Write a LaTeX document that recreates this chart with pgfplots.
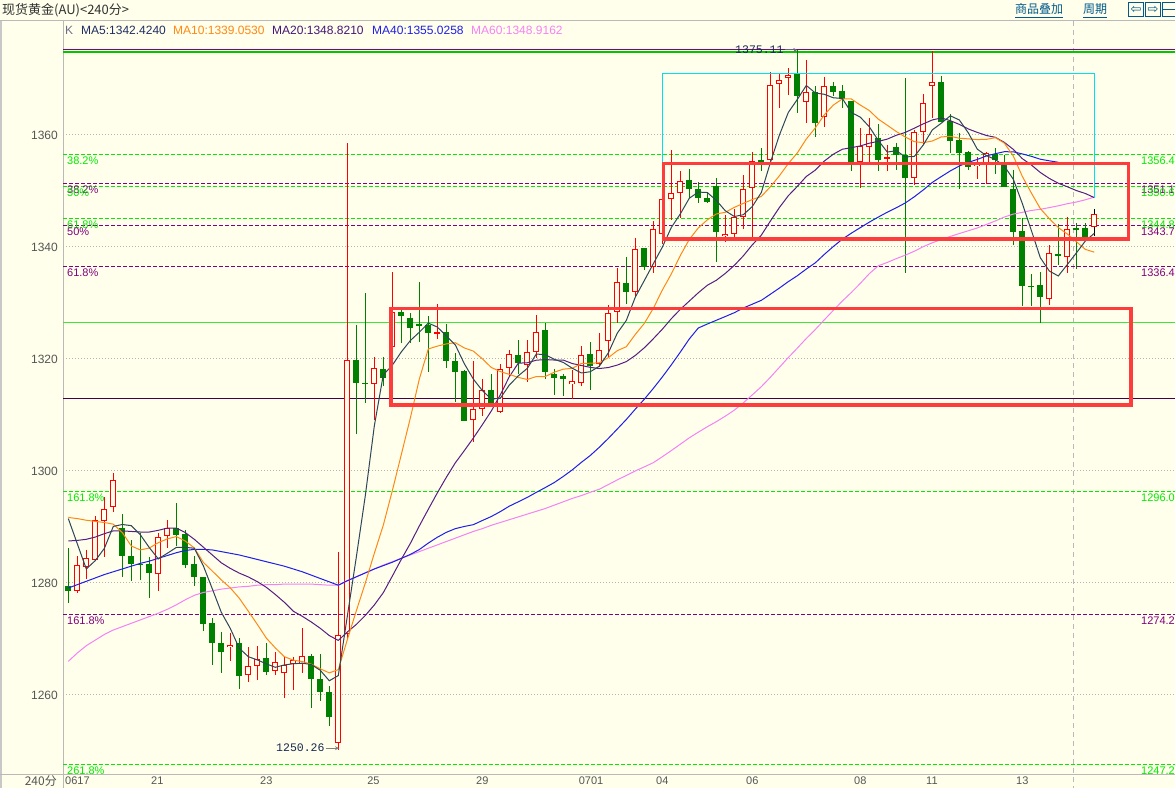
\documentclass[border=0pt]{standalone}
\usepackage{pgfplots}
\pgfplotsset{compat=1.18}
\usepackage{pgfplotstable}
\usetikzlibrary{arrows.meta}
\usepackage{fontspec}
\setmainfont{Liberation Sans}
\newfontfamily\cjk{Noto Sans CJK SC}
\newfontfamily\monof{Liberation Mono}
\newfontfamily\djv{DejaVu Sans}
\newcommand{\fs}[1]{\fontsize{#1bp}{#1bp}\selectfont}

\definecolor{bg}{RGB}{255,255,236}
\definecolor{gridc}{RGB}{180,180,180}
\definecolor{framec}{RGB}{185,185,185}
\definecolor{leftgray}{RGB}{200,200,200}
\definecolor{tickc}{RGB}{85,85,85}
\definecolor{titlec}{RGB}{50,50,50}
\definecolor{candR}{RGB}{255,0,0}
\definecolor{candG}{RGB}{0,128,0}
\definecolor{fibG}{RGB}{0,235,0}
\definecolor{fibP}{RGB}{128,0,128}
\definecolor{topG}{RGB}{0,200,0}
\definecolor{supG}{RGB}{60,230,60}
\definecolor{darkL}{RGB}{70,0,70}
\definecolor{maA}{RGB}{45,70,90}
\definecolor{maB}{RGB}{255,136,20}
\definecolor{maC}{RGB}{85,30,130}
\definecolor{maD}{RGB}{30,30,235}
\definecolor{maE}{RGB}{245,130,245}
\definecolor{maAt}{RGB}{30,45,100}
\definecolor{maCt}{RGB}{70,20,120}
\definecolor{kc}{RGB}{110,110,140}
\definecolor{rectR}{RGB}{255,60,60}
\definecolor{cyanc}{RGB}{0,225,235}
\definecolor{navy}{RGB}{20,40,80}
\definecolor{arrP}{RGB}{130,80,150}
\definecolor{linkc}{RGB}{0,90,140}

% up (red, hollow) candles: index open high low close
\pgfplotstableread{
k o h l c
2 1278.5 1284.9 1278.2 1283.2
3 1282.9 1285.9 1280.7 1284.4
4 1284.1 1292.0 1283.9 1291.3
5 1291.0 1295.4 1284.7 1293.3
6 1293.5 1299.7 1292.6 1298.3
11 1281.7 1289.0 1278.5 1288.2
12 1288.3 1291.3 1286.3 1289.9
19 1268.5 1271.0 1266.0 1268.9
21 1263.5 1268.6 1262.4 1265.1
22 1265.1 1268.8 1262.7 1266.4
24 1264.3 1267.6 1263.6 1265.8
25 1263.9 1266.8 1259.5 1265.4
26 1265.5 1266.8 1260.9 1266.2
27 1265.6 1271.9 1263.9 1266.9
31 1251.5 1285.6 1250.26 1270.8
32 1270.9 1358.5 1270.0 1319.8
35 1315.5 1320.4 1309.1 1318.3
37 1322.1 1335.5 1321.1 1328.3
42 1324.5 1329.9 1323.5 1324.8
46 1309.1 1319.7 1305.2 1311.0
47 1311.1 1316.4 1309.8 1314.5
49 1310.6 1319.2 1310.4 1318.3
50 1318.3 1321.6 1316.9 1320.8
52 1318.9 1323.4 1315.8 1321.2
53 1321.2 1327.9 1320.1 1324.9
57 1315.5 1318.0 1312.8 1316.0
58 1315.8 1322.3 1315.1 1320.7
60 1319.2 1324.6 1318.6 1321.6
61 1323.3 1329.7 1320.1 1328.3
62 1328.3 1336.3 1326.4 1333.7
64 1331.9 1341.6 1331.1 1339.6
66 1336.4 1344.7 1335.4 1343.3
67 1342.4 1349.6 1340.5 1348.5
68 1348.5 1357.3 1344.8 1349.6
69 1349.6 1353.5 1345.1 1351.7
74 1342.0 1345.7 1340.8 1342.4
75 1342.4 1346.8 1341.6 1345.3
76 1345.4 1352.9 1343.2 1350.4
77 1350.5 1356.9 1341.6 1355.4
79 1355.5 1371.3 1355.4 1368.9
80 1369.1 1371.0 1364.9 1369.9
81 1370.1 1372.0 1367.1 1370.8
83 1365.8 1373.4 1362.1 1367.6
85 1363.2 1370.3 1361.5 1368.7
89 1355.1 1361.2 1350.6 1358.0
90 1357.9 1363.0 1355.2 1360.1
92 1355.7 1358.2 1353.6 1356.0
95 1352.3 1360.9 1351.0 1360.5
96 1360.5 1367.4 1358.2 1365.8
97 1368.8 1375.0 1363.1 1369.4
102 1354.4 1356.1 1352.1 1354.8
103 1354.6 1357.0 1351.2 1356.7
110 1330.8 1340.4 1329.6 1338.9
112 1338.2 1345.3 1335.3 1343.3
115 1343.5 1346.8 1341.9 1345.8
}\upT

% down (green, filled) candles
\pgfplotstableread{
k o h l c
1 1279.5 1286.2 1276.5 1278.6
7 1289.8 1292.3 1281.1 1284.9
8 1284.9 1287.7 1280.4 1283.4
9 1283.4 1288.9 1280.5 1283.2
10 1283.3 1284.6 1277.4 1281.8
13 1289.9 1294.3 1286.6 1288.6
14 1288.8 1289.5 1282.6 1283.3
15 1283.4 1284.8 1279.5 1281.0
16 1281.0 1281.1 1271.5 1272.6
17 1272.8 1273.7 1265.4 1269.3
18 1269.3 1271.3 1263.9 1267.6
20 1269.3 1270.1 1261.1 1263.3
23 1266.6 1269.3 1263.6 1264.1
28 1266.9 1267.3 1257.6 1262.9
29 1262.9 1267.3 1259.0 1260.6
30 1260.5 1261.7 1254.5 1256.1
33 1319.8 1326.1 1306.7 1315.7
34 1315.8 1331.7 1312.2 1315.5
36 1318.2 1320.4 1315.1 1316.6
38 1328.4 1329.1 1322.9 1327.6
39 1327.4 1328.2 1322.8 1325.6
40 1326.3 1333.7 1323.1 1325.8
41 1326.1 1327.7 1317.6 1324.7
43 1324.8 1326.3 1318.3 1319.7
44 1319.6 1321.0 1312.4 1317.6
45 1317.9 1318.0 1309.0 1309.0
48 1314.5 1317.3 1311.5 1312.1
51 1320.7 1323.4 1317.4 1319.2
54 1325.2 1326.4 1316.4 1317.7
55 1317.3 1318.2 1313.5 1316.7
56 1316.9 1317.3 1313.4 1316.4
59 1320.8 1323.1 1314.5 1318.8
63 1333.5 1338.2 1329.9 1332.0
65 1339.8 1339.9 1335.9 1336.4
70 1351.9 1353.9 1348.7 1350.4
71 1350.3 1351.6 1347.8 1348.8
72 1348.7 1349.9 1347.8 1348.1
73 1350.8 1352.3 1337.4 1342.6
78 1355.5 1357.6 1353.6 1355.1
82 1370.9 1375.11 1364.0 1367.0
84 1367.6 1368.8 1359.7 1362.2
86 1368.8 1369.5 1367.0 1367.7
87 1367.9 1368.9 1364.8 1366.4
88 1366.1 1366.1 1353.5 1355.1
91 1359.4 1361.9 1353.5 1355.5
93 1357.8 1358.5 1353.8 1356.4
94 1356.4 1370.2 1335.4 1352.4
98 1369.4 1370.6 1362.3 1362.4
99 1362.5 1363.7 1356.7 1359.0
100 1359.1 1360.3 1350.4 1356.8
101 1356.9 1357.1 1353.8 1354.3
104 1356.6 1357.6 1353.0 1355.5
105 1354.9 1356.4 1350.8 1350.8
106 1350.4 1353.8 1340.4 1342.7
107 1342.9 1345.2 1329.4 1333.1
108 1333.1 1335.1 1329.4 1332.8
109 1333.3 1335.6 1326.4 1331.0
111 1338.8 1344.1 1336.8 1338.3
113 1343.4 1344.2 1336.0 1343.1
114 1343.4 1344.2 1341.7 1341.7
}\downT

% moving averages
\pgfplotstableread{
k ma5 ma10 ma20 ma40 ma60
1 1291.5 1291.7 1287.5 1279.1 1266.0
2 1287.0 1291.5 1287.6 1279.7 1267.5
3 1282.5 1291.2 1287.8 1280.3 1268.8
4 1284.0 1291.0 1288.2 1280.9 1269.8
5 1286.16 1290.8 1288.8 1281.5 1270.8
6 1290.10 1290.5 1289.3 1282.0 1271.6
7 1290.44 1289.0 1289.3 1282.5 1272.2
8 1290.24 1286.6 1289.2 1283.0 1272.8
9 1288.62 1285.9 1289.1 1283.5 1273.4
10 1286.32 1286.24 1289.1 1283.9 1274.0
11 1284.30 1287.20 1289.4 1284.4 1274.6
12 1285.30 1287.87 1289.8 1284.9 1275.3
13 1286.34 1288.29 1289.8 1285.4 1276.1
14 1286.36 1287.49 1289.0 1285.8 1277.0
15 1286.20 1286.26 1287.8 1286.0 1277.8
16 1283.08 1283.69 1286.4 1286.0 1278.3
17 1278.96 1282.13 1285.0 1285.9 1278.6
18 1274.76 1280.55 1283.6 1285.6 1278.9
19 1271.88 1279.12 1282.6 1285.3 1279.1
20 1268.34 1277.27 1281.76 1285.0 1279.3
21 1266.84 1274.96 1281.08 1284.6 1279.4
22 1266.26 1272.61 1280.24 1284.2 1279.6
23 1265.56 1270.16 1279.23 1283.8 1279.7
24 1264.94 1268.41 1277.95 1283.4 1279.7
25 1265.36 1266.85 1276.56 1283.0 1279.8
26 1265.58 1266.21 1274.95 1282.5 1279.8
27 1265.68 1265.97 1274.05 1282.0 1279.8
28 1265.44 1265.50 1273.03 1281.4 1279.8
29 1264.40 1264.67 1271.90 1280.8 1279.7
30 1262.54 1263.95 1270.61 1280.2 1279.6
31 1263.46 1264.52 1269.74 1279.6 1279.6
32 1274.04 1269.86 1271.24 1280.4 1280.4
33 1284.60 1275.02 1272.59 1281.1 1281.1
34 1295.58 1279.99 1274.20 1281.8 1281.8
35 1308.02 1285.28 1276.07 1282.5 1282.5
36 1317.18 1290.32 1278.27 1283.1 1283.2
37 1318.88 1296.46 1281.22 1283.7 1283.8
38 1321.26 1302.93 1284.22 1284.4 1284.4
39 1323.28 1309.43 1287.05 1285.1 1285.0
40 1324.78 1316.40 1290.18 1285.97 1285.6
41 1326.40 1321.79 1293.16 1287.12 1286.2
42 1325.70 1322.29 1296.08 1288.16 1286.8
43 1324.12 1322.69 1298.86 1289.04 1287.4
44 1322.52 1322.90 1301.45 1289.70 1288.0
45 1319.16 1321.97 1303.63 1290.09 1288.6
46 1316.42 1321.41 1305.87 1290.41 1289.2
47 1314.36 1320.03 1308.25 1291.15 1289.7
48 1312.84 1318.48 1310.71 1291.87 1290.3
49 1312.98 1317.75 1313.59 1292.74 1290.8
50 1315.34 1317.25 1316.83 1293.72 1291.3
51 1316.98 1316.70 1319.25 1294.49 1291.8
52 1318.32 1316.34 1319.32 1295.28 1292.3
53 1320.88 1316.86 1319.78 1296.18 1292.8
54 1320.76 1316.87 1319.89 1297.04 1293.3
55 1319.94 1317.64 1319.81 1297.94 1293.9
56 1319.38 1318.18 1319.80 1299.03 1294.5
57 1318.34 1318.33 1319.18 1300.20 1295.1
58 1317.50 1319.19 1318.84 1301.53 1295.6
59 1317.72 1319.24 1318.50 1302.77 1296.2
60 1318.70 1319.32 1318.29 1304.23 1296.74
61 1321.08 1320.23 1318.47 1305.81 1297.57
62 1324.62 1321.48 1318.91 1307.49 1298.41
63 1326.88 1322.19 1319.53 1309.19 1299.20
64 1331.04 1324.38 1320.63 1311.04 1300.01
65 1334.00 1326.35 1322.00 1312.81 1300.73
66 1337.00 1329.04 1323.61 1314.74 1301.48
67 1339.96 1332.29 1325.31 1316.78 1302.54
68 1343.48 1335.18 1327.19 1318.95 1303.64
69 1345.90 1338.47 1328.86 1321.22 1304.78
70 1348.70 1341.35 1330.34 1323.58 1305.92
71 1349.80 1343.40 1331.82 1325.53 1306.93
72 1349.72 1344.84 1333.16 1326.24 1307.90
73 1348.32 1345.90 1334.05 1326.91 1308.80
74 1346.46 1346.18 1335.28 1327.58 1309.79
75 1345.44 1347.07 1336.71 1328.26 1310.86
76 1345.76 1347.78 1338.41 1329.10 1312.16
77 1347.22 1348.47 1340.38 1329.78 1313.59
78 1349.72 1349.02 1342.10 1330.47 1315.05
79 1355.02 1350.74 1344.61 1331.55 1316.72
80 1359.94 1352.69 1347.02 1332.65 1318.49
81 1364.02 1354.89 1349.15 1333.81 1320.26
82 1366.34 1356.78 1350.81 1334.86 1321.93
83 1368.84 1359.28 1352.59 1336.06 1323.66
84 1367.50 1361.26 1353.72 1337.17 1325.26
85 1367.26 1363.60 1355.34 1338.67 1326.99
86 1366.64 1365.33 1356.56 1340.08 1328.68
87 1366.52 1366.43 1357.45 1341.38 1330.34
88 1364.02 1366.43 1357.73 1342.46 1331.87
89 1363.18 1365.34 1358.04 1343.45 1333.50
90 1361.46 1364.36 1358.53 1344.43 1335.23
91 1359.02 1362.83 1358.86 1345.34 1336.64
92 1356.94 1361.73 1359.26 1346.21 1337.24
93 1357.20 1360.61 1359.95 1347.00 1337.92
94 1356.08 1359.63 1360.45 1347.86 1338.54
95 1356.16 1358.81 1361.21 1348.96 1339.24
96 1358.22 1358.62 1361.98 1350.19 1340.06
97 1360.90 1358.92 1362.68 1351.53 1340.75
98 1362.10 1359.65 1363.04 1352.57 1341.33
99 1363.42 1359.75 1362.55 1353.58 1341.88
100 1362.68 1359.42 1361.89 1354.46 1342.40
101 1360.38 1359.30 1361.07 1355.11 1342.89
102 1357.46 1359.18 1360.46 1355.63 1343.39
103 1356.32 1359.21 1359.91 1356.25 1344.01
104 1355.62 1359.52 1359.58 1356.65 1344.64
105 1354.42 1358.55 1358.68 1357.01 1345.34
106 1352.10 1356.24 1357.43 1356.99 1345.87
107 1347.76 1352.61 1355.77 1356.61 1346.18
108 1342.98 1349.65 1354.65 1356.19 1346.52
109 1338.08 1346.85 1353.30 1355.67 1346.73
110 1335.70 1345.06 1352.24 1355.38 1347.03
111 1334.82 1343.46 1351.38 1355.12 1347.35
112 1336.86 1342.31 1350.75 1355.00 1347.72
113 1338.92 1340.95 1350.08 1355.01 1348.02
114 1341.06 1339.57 1349.55 1355.00 1348.42
115 1342.44 1339.07 1348.81 1355.01 1348.91
}\maT

\pgfplotsset{
  cwick/.style={draw=none, mark=none, forget plot,
    error bars/y dir=both, error bars/y explicit, error bars/error mark=none,
    error bars/error bar style={draw=#1, line width=1bp, solid}},
  cbody/.style 2 args={draw=none, mark=none, forget plot,
    error bars/y dir=both, error bars/y explicit, error bars/error mark=none,
    error bars/error bar style={draw=#1, line width=#2, solid}},
}

\begin{document}
\begin{tikzpicture}[x=1bp,y=1bp]
\useasboundingbox (0,0) rectangle (1175,788);
\fill[bg] (0,0) rectangle (1175,788);
\begin{scope}[yshift=788bp,y=-1bp]
  \fill[leftgray] (0,20) rectangle (2,788);
  \draw[framec, line width=1bp] (0,20.5) -- (1175,20.5);
  \draw[framec, line width=1bp] (63.5,20.5) -- (63.5,788);
  \draw[framec, line width=1bp] (0,774.5) -- (1175,774.5);
  \draw[framec, line width=1bp, dash pattern=on 5bp off 4bp] (1073.5,21) -- (1073.5,788);
  % header row
  \node[anchor=west, inner sep=0pt, text=titlec] at (2,10) {\cjk\fs{13}现货黄金(AU)<240分>};
  \node[anchor=west, inner sep=0pt, text=linkc] at (1015,9) {\cjk\fs{12}商品叠加};
  \draw[linkc, line width=1bp] (1015,17.5) -- (1063,17.5);
  \node[anchor=west, inner sep=0pt, text=linkc] at (1083,9) {\cjk\fs{12}周期};
  \draw[linkc, line width=1bp] (1083,17.5) -- (1107,17.5);
  \draw[linkc, line width=1.2bp] (1128.5,2.5) rectangle (1143.5,16.5);
  \node[inner sep=0pt, text=linkc] at (1136,9.5) {\djv\fs{13}⇦};
  \draw[linkc, line width=1.2bp] (1145.5,2.5) rectangle (1160.5,16.5);
  \node[inner sep=0pt, text=linkc] at (1153,9.5) {\djv\fs{13}⇨};
  \draw[linkc, line width=1.2bp] (1162.5,2.5) rectangle (1178,16.5);
  \draw[linkc, line width=1.2bp] (1162.5,9.5) -- (1178,9.5);
  % legend row
  \node[anchor=west, inner sep=0pt, text=kc] at (65,30) {\fs{12}K};
  \node[anchor=west, inner sep=0pt, text=maAt] at (81,30) {\fs{12}MA5:1342.4240};
  \node[anchor=west, inner sep=0pt, text=maB] at (173,30) {\fs{12}MA10:1339.0530};
  \node[anchor=west, inner sep=0pt, text=maCt] at (272,30) {\fs{12}MA20:1348.8210};
  \node[anchor=west, inner sep=0pt, text=maD] at (372,30) {\fs{12}MA40:1355.0258};
  \node[anchor=west, inner sep=0pt, text=maE] at (471,30) {\fs{12}MA60:1348.9162};
  % bottom-left period label
  \node[anchor=east, inner sep=0pt, text=tickc] at (57,781) {\cjk\fs{12}240分};
\end{scope}

\begin{axis}[
  at={(63bp,14bp)}, anchor=south west,
  scale only axis, width=1112bp, height=734bp,
  xmin=0.411, xmax=123.967, ymin=1245.89, ymax=1376.96,
  axis line style={draw=none},
  major tick length=0pt,
  ytick={1260,1280,1300,1320,1340,1360},
  ymajorgrids,
  grid style={gridc, line width=1bp, dash pattern=on 1bp off 2bp},
  xtick={0.63,10.19,22.3,34.2,46.3,57.7,66.3,76.3,88.3,96.3,106.3},
  xticklabels={0617,21,23,25,29,0701,04,06,08,11,13},
  /pgf/number format/assume math mode=true,
  /pgf/number format/1000 sep={},
  yticklabel style={anchor=east, inner sep=0pt, xshift=-5bp, text=tickc, font=\fs{12}},
  xticklabel style={anchor=west, inner sep=0pt, yshift=-7bp, text=tickc, font=\fs{11}},
]
% Fibonacci dashed levels
\addplot[fibG, line width=1bp, dash pattern=on 4bp off 2bp, forget plot] coordinates {(0.411,1356.5) (123.967,1356.5)};
\addplot[fibG, line width=1bp, dash pattern=on 4bp off 2bp, forget plot] coordinates {(0.411,1350.85) (123.967,1350.85)};
\addplot[fibG, line width=1bp, dash pattern=on 4bp off 2bp, forget plot] coordinates {(0.411,1345.0) (123.967,1345.0)};
\addplot[fibG, line width=1bp, dash pattern=on 4bp off 2bp, forget plot] coordinates {(0.411,1296.3) (123.967,1296.3)};
\addplot[fibG, line width=1bp, dash pattern=on 4bp off 2bp, forget plot] coordinates {(0.411,1247.5) (123.967,1247.5)};
\addplot[fibP, line width=1bp, dash pattern=on 4bp off 2bp, forget plot] coordinates {(0.411,1351.35) (123.967,1351.35)};
\addplot[fibP, line width=1bp, dash pattern=on 4bp off 2bp, forget plot] coordinates {(0.411,1343.85) (123.967,1343.85)};
\addplot[fibP, line width=1bp, dash pattern=on 4bp off 2bp, forget plot] coordinates {(0.411,1336.45) (123.967,1336.45)};
\addplot[fibP, line width=1bp, dash pattern=on 4bp off 2bp, forget plot] coordinates {(0.411,1274.4) (123.967,1274.4)};
% solid horizontal levels
\addplot[fibP, line width=1bp, forget plot] coordinates {(0.411,1375.18) (123.967,1375.18)};
\addplot[topG, line width=2bp, forget plot] coordinates {(0.411,1374.88) (123.967,1374.88)};
\addplot[supG, line width=1bp, forget plot] coordinates {(0.411,1326.43) (123.967,1326.43)};
\addplot[darkL, line width=1bp, forget plot] coordinates {(0.411,1312.86) (123.967,1312.86)};

% candles: wicks
\addplot[cwick=candG] table[x=k, y expr={(\thisrow{h}+\thisrow{l})/2}, y error expr={(\thisrow{h}-\thisrow{l})/2}] {\downT};
\addplot[cwick=candR] table[x=k, y expr={(\thisrow{h}+\thisrow{l})/2}, y error expr={(\thisrow{h}-\thisrow{l})/2}] {\upT};
\addplot[cwick=black] coordinates {(115,1344.35) +- (0,2.45)};
% candles: bodies
\addplot[cbody={candG}{6bp}] table[x=k, y expr={(\thisrow{o}+\thisrow{c})/2}, y error expr={max(abs(\thisrow{o}-\thisrow{c})/2,0.09)}] {\downT};
\addplot[cbody={candR}{6bp}] table[x=k, y expr={(\thisrow{o}+\thisrow{c})/2}, y error expr={max(abs(\thisrow{o}-\thisrow{c})/2,0.09)}] {\upT};
\addplot[cbody={bg}{4bp}] table[x=k, y expr={(\thisrow{o}+\thisrow{c})/2}, y error expr={max(abs(\thisrow{o}-\thisrow{c})/2-0.179,0)}] {\upT};

% moving averages
\addplot[maE, line width=1bp, mark=none] table[x=k, y=ma60] {\maT};
\addplot[maD, line width=1bp, mark=none, restrict x to domain=1:111] table[x=k, y=ma40] {\maT};
\addplot[maC, line width=1bp, mark=none] table[x=k, y=ma20] {\maT};
\addplot[maB, line width=1bp, mark=none] table[x=k, y=ma10] {\maT};
\addplot[maA, line width=1bp, mark=none] table[x=k, y=ma5] {\maT};

% drawn boxes
\draw[cyanc, line width=1bp] (axis cs:67.0,1354.9) -- (axis cs:67.0,1371.0) -- (axis cs:115.0,1371.0) -- (axis cs:115.0,1348.75);
\draw[rectR, line width=3.5bp] (axis cs:67.16,1354.91) rectangle (axis cs:118.82,1341.46);
\draw[rectR, line width=3.5bp] (axis cs:36.86,1329.02) rectangle (axis cs:119.08,1311.75);

% level labels (left)
\begin{scope}[every node/.style={anchor=north west, inner sep=0pt, font=\fs{11}, yshift=-2bp}]
\node[text=fibG] at (axis cs:0.856,1356.5) {38.2\%};
\node[text=fibP] at (axis cs:0.856,1351.35) {38.2\%};
\node[text=fibG] at (axis cs:0.856,1350.85) {50\%};
\node[text=fibG] at (axis cs:0.856,1345.0) {61.8\%};
\node[text=fibP] at (axis cs:0.856,1343.85) {50\%};
\node[text=fibP] at (axis cs:0.856,1336.45) {61.8\%};
\node[text=fibG] at (axis cs:0.856,1296.3) {161.8\%};
\node[text=fibP] at (axis cs:0.856,1274.4) {161.8\%};
\node[text=fibG] at (axis cs:0.856,1247.5) {261.8\%};
% level labels (right)
\node[text=fibG] at (axis cs:120.19,1356.5) {1356.43};
\node[text=fibP] at (axis cs:120.19,1351.35) {1351.14};
\node[text=fibG] at (axis cs:120.19,1350.85) {1350.68};
\node[text=fibG] at (axis cs:120.19,1345.0) {1344.87};
\node[text=fibP] at (axis cs:120.19,1343.85) {1343.70};
\node[text=fibP] at (axis cs:120.19,1336.45) {1336.42};
\node[text=fibG] at (axis cs:120.19,1296.3) {1296.08};
\node[text=fibP] at (axis cs:120.19,1274.4) {1274.20};
\node[text=fibG] at (axis cs:120.19,1247.5) {1247.20};
\end{scope}

% extreme-value annotations
\node[anchor=west, inner sep=0pt, text=navy, font=\monof\fs{11.5}] at (axis cs:75.08,1375.18) {1375.11};
\draw[arrP, line width=1bp, -{Stealth[length=4bp,width=4bp]}] (axis cs:80.64,1375.18) -- (axis cs:82.0,1375.18);
\node[anchor=west, inner sep=0pt, text=navy, font=\monof\fs{11.5}] at (axis cs:24.08,1250.5) {1250.26};
\draw[gray, line width=1bp, -{Stealth[length=4bp,width=4bp]}] (axis cs:29.63,1250.5) -- (axis cs:31.08,1250.5);
\end{axis}
\end{tikzpicture}
\end{document}
